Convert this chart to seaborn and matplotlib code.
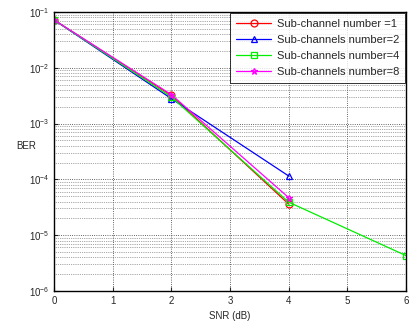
import pandas as pd
import matplotlib
matplotlib.use("Agg")
import matplotlib.pyplot as plt
import seaborn as sns

# data
snr = [0, 2, 4]
snr_4 = [0, 2, 4, 6]
ber_1 = [0.072, 3.2e-3, 3.6e-5]
ber_2 = [0.072, 2.8e-3, 1.15e-4]
ber_4 = [0.072, 3.0e-3, 3.9e-5, 4.3e-6]
ber_8 = [0.072, 3.3e-3, 4.7e-5]
labels = ["Sub-channel number =1", "Sub-channels number=2",
          "Sub-channels number=4", "Sub-channels number=8"]

rows = []
for lab, xs, ys in zip(labels, [snr, snr, snr_4, snr], [ber_1, ber_2, ber_4, ber_8]):
    for x, y in zip(xs, ys):
        rows.append({"SNR": x, "BER": y, "series": lab})
df = pd.DataFrame(rows)

sns.set_style("white")
plt.rcParams["font.family"] = ["Liberation Sans", "DejaVu Sans"]

fig = plt.figure(figsize=(4.1, 3.25), dpi=100)
ax = fig.add_axes([0.132, 0.105, 0.858, 0.858])

palette = {labels[0]: "red", labels[1]: "blue", labels[2]: "#00ee00", labels[3]: "magenta"}
markers = {labels[0]: "o", labels[1]: "^", labels[2]: "s", labels[3]: "*"}
sns.lineplot(data=df, x="SNR", y="BER", hue="series", style="series",
             palette=palette, markers=markers, dashes=False, ax=ax,
             linewidth=0.9, markersize=5, markeredgewidth=0.9)
for ln in ax.lines:
    ln.set_markerfacecolor("none")
    ln.set_markeredgecolor(ln.get_color())

ax.set_yscale("log")
ax.set_xlim(0, 6)
ax.set_ylim(1e-6, 1e-1)
ax.set_xticks(range(7))
ax.grid(True, which="major", linestyle=":", color="#333333", linewidth=0.6)
ax.grid(True, which="minor", linestyle=":", color="#555555", linewidth=0.5)
for s in ax.spines.values():
    s.set_color("black")
    s.set_linewidth(1.0)
ax.tick_params(labelsize=7, which="both", direction="in", length=2)
ax.tick_params(which="major", left=True, bottom=True, length=3)
ax.set_xlabel("SNR (dB)", fontsize=7, labelpad=4)
ax.set_ylabel("BER", fontsize=7, rotation=0, labelpad=2)

leg = ax.legend(loc="upper right", fontsize=8, frameon=True, fancybox=False,
                edgecolor="black", borderaxespad=0.1, handlelength=3.2,
                labelspacing=0.55, borderpad=0.5, handletextpad=0.5)
leg.get_frame().set_linewidth(0.7)
for h in leg.legend_handles:
    h.set_markerfacecolor("none")

fig.savefig("out.png", dpi=100)
